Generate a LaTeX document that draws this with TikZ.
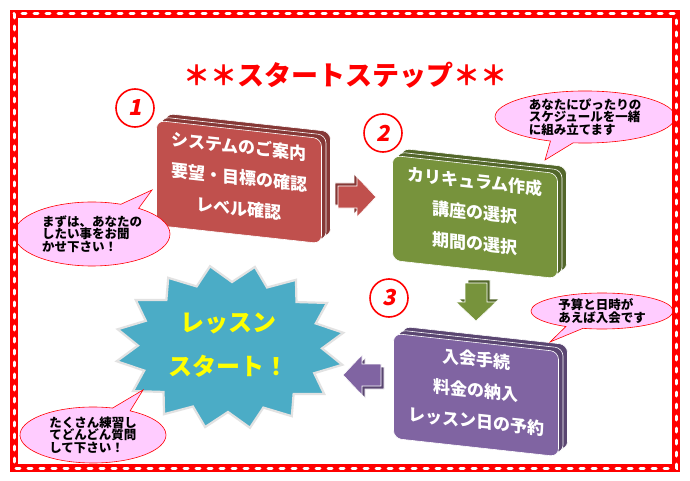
\documentclass[tikz,border=0pt]{standalone}
\usepackage{fontspec}
\setmainfont{Noto Sans CJK JP}
\newfontfamily\numfont[FakeSlant=0.2]{Noto Sans CJK JP}
\usetikzlibrary{positioning,shapes.geometric,shapes.callouts,shadows}
\definecolor{framered}{HTML}{FF0000}
\definecolor{boxred}{HTML}{C0504D}
\definecolor{boxgreen}{HTML}{77933C}
\definecolor{boxpurple}{HTML}{8064A2}
\definecolor{starblue}{HTML}{4BACC6}
\definecolor{starrim}{HTML}{E2E2E2}
\definecolor{calloutpink}{HTML}{FFCCFF}
\definecolor{popyellow}{HTML}{FFFF00}

\begin{document}
\begin{tikzpicture}[x=1pt,y=-1pt,
  stepbox/.style={minimum width=165pt,minimum height=105pt,rounded corners=8pt,
    yslant=-0.11,draw=white,line width=0.6pt,text=white,align=center,inner sep=0pt,
    font=\bfseries\fontsize{17}{31}\selectfont},
  numcircle/.style={circle,draw=framered,line width=1.6pt,fill=white,minimum size=38pt,
    inner sep=0pt,text=framered,font=\numfont\bfseries\fontsize{22}{22}\selectfont},
  callout/.style={ellipse callout,fill=calloutpink,draw=framered,line width=0.6pt,
    inner sep=0pt,align=left,font=\bfseries\fontsize{12.5}{12.5}\selectfont}]

\useasboundingbox (0,0) rectangle (690,481);
\fill[white] (0,0) rectangle (690,481);

% title
\node[text=framered,font=\bfseries\fontsize{27}{29}\selectfont] (title) at (345,75)
  {＊＊スタートステップ＊＊};

% the three steps
\node[stepbox,fill=boxred,double copy shadow={shadow xshift=4.5pt,shadow yshift=3.5pt,
      fill=boxred!70!black,draw=white,line width=0.6pt}] (box1) at (239,182)
  {システムのご案内\\要望・目標の確認\\レベル確認\\[-20pt]};
\node[stepbox,fill=boxgreen,double copy shadow={shadow xshift=4.5pt,shadow yshift=3.5pt,
      fill=boxgreen!70!black,draw=white,line width=0.6pt}] (box2) at (475,217)
  {カリキュラム作成\\講座の選択\\期間の選択\\[-20pt]};
\node[stepbox,fill=boxpurple,double copy shadow={shadow xshift=4.5pt,shadow yshift=3.5pt,
      fill=boxpurple!70!black,draw=white,line width=0.6pt}] (box3) at (476,395)
  {入会手続\\料金の納入\\レッスン日の予約\\[-20pt]};

% block arrows between the steps
\foreach \ax/\ay/\ang/\col in {357/197/0/boxred,476/302/-90/boxgreen,362/375/180/boxpurple}{
  \begin{scope}[shift={(\ax,\ay)},rotate=\ang]
    \filldraw[fill=\col!70!black,draw=white,line width=0.6pt,shift={(-3,-3)}]
      (-19,-11) -- (0,-11) -- (0,-20) -- (19,0) -- (0,20) -- (0,11) -- (-19,11) -- cycle;
    \filldraw[fill=\col,draw=white,line width=0.6pt]
      (-19,-11) -- (0,-11) -- (0,-20) -- (19,0) -- (0,20) -- (0,11) -- (-19,11) -- cycle;
  \end{scope}
}

% lesson start burst
\filldraw[fill=starblue,draw=starrim,line width=2.2pt]
  plot[variable=\k,samples at={0,...,31}]
  ({230+ifthenelse(mod(\k,2)==0,115,92)*cos(100+\k*11.25)},
   {347-ifthenelse(mod(\k,2)==0,82,65)*sin(100+\k*11.25)}) -- cycle;
\node[align=center,text=popyellow,font=\bfseries\fontsize{24}{44}\selectfont]
  (start) at (228,345) {レッスン\\スタート！};

% speech bubbles
\node[callout,minimum width=156pt,minimum height=64pt,
      callout absolute pointer={(152,190)}] (tip1) at (92,234)
  {まずは、あなたの\\したい事をお聞\\かせ下さい！};
\node[callout,minimum width=180pt,minimum height=52pt,
      callout absolute pointer={(545,160)}] (tip2) at (585,117)
  {あなたにぴったりの\\スケジュールを一緒\\に組み立てます};
\node[callout,minimum width=142pt,minimum height=36pt,
      callout absolute pointer={(550,342)}] (tip3) at (602,311)
  {予算と日時が\\あえば入会です};
\node[callout,minimum width=146pt,minimum height=56pt,
      callout absolute pointer={(143,390)}] (tip4) at (93,435)
  {たくさん練習し\\てどんどん質問\\して下さい！};

% step numbers
\node[numcircle] (num1) at (135,108) {1};
\node[numcircle] (num2) at (383,133) {2};
\node[numcircle] (num3) at (389,298) {3};

% frame
\draw[framered,line width=8pt] (14,14) rectangle (676,468);
\draw[white,line width=3pt,dash pattern=on 4pt off 8pt,line cap=round]
  (14,14) rectangle (676,468);

\end{tikzpicture}
\end{document}
